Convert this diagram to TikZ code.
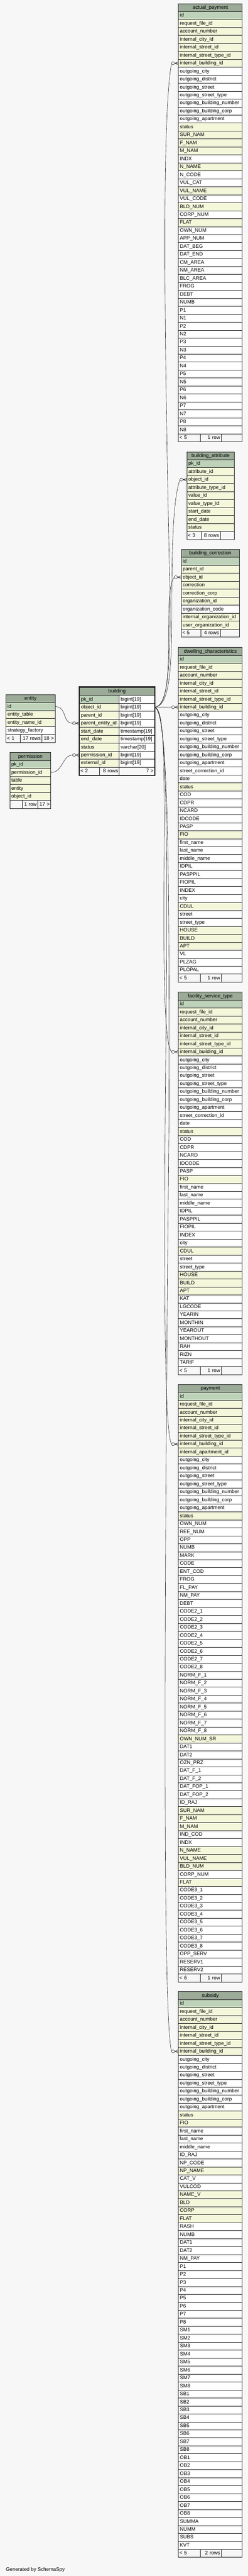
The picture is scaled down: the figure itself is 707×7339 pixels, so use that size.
\documentclass[tikz,border=0pt]{standalone}
\usepackage{fontspec}
\setmainfont{Liberation Sans}
\usetikzlibrary{positioning}

\definecolor{bgcol}{HTML}{F7F7F7}
\definecolor{hdrcol}{HTML}{9BAB98}
\definecolor{pkcol}{HTML}{BED1B9}
\definecolor{fkcol}{HTML}{F4F7DA}
\definecolor{edgecol}{HTML}{222222}

% table: id, title, left, top, width, rows (style/label)
\newcommand{\dbtable}[6]{%
  \pgfmathsetmacro\tw{#5-8.6}%
  \node[hdr, text width=\tw pt, anchor=north west] (#1-h) at (#3,#4) {#2};
  \foreach \kind/\lbl [count=\i] in {#6}{%
    \node[\kind, text width=\tw pt, anchor=north west] (#1-\i) at (#3,#4+\i*22.7) {\lbl};
    \xdef\lastrow{\i}}%
}
% footer: id, three widths, three texts
\newcommand{\dbfoot}[7]{%
  \pgfmathsetmacro\wa{#2-6}\pgfmathsetmacro\wb{#3-6}\pgfmathsetmacro\wc{#4-6}%
  \node[footcell, text width=\wa pt, align=left, anchor=north west] (#1-f1) at (#1-\lastrow.south west) {\mbox{#5}};
  \node[footcell, text width=\wb pt, align=right, anchor=north west] (#1-f2) at (#1-f1.north east) {\mbox{#6}};
  \node[footcell, text width=\wc pt, align=right, anchor=north west] (#1-f3) at (#1-f2.north east) {\mbox{#7}};
}

\catcode`\_=12

\begin{document}
\begin{tikzpicture}[x=1pt, y=-1pt,
    every node/.style={font=\fontsize{14.3}{16}\selectfont, inner xsep=4.3pt, inner ysep=0pt,
                       outer sep=0pt, minimum height=22.7pt, text height=10.6pt, text depth=2.2pt},
    cell/.style={draw=edgecol, line width=0.9pt, align=left},
    hdr/.style={cell, fill=hdrcol, align=center},
    pkrow/.style={cell, fill=pkcol},
    fkrow/.style={cell, fill=fkcol},
    colrow/.style={cell, fill=white},
    footcell/.style={cell, fill=bgcol, inner xsep=3pt},
    fkline/.style={draw=edgecol, line width=0.9pt},
    crowodot/.pic={
      \draw[edgecol, line width=0.9pt] (-11,0) -- (0,-4) (-11,0) -- (0,0) (-11,0) -- (0,4);
      \draw[edgecol, line width=0.9pt, fill=white] (-15.3,0) circle (4.3pt);
    }]

  \fill[bgcol] (0,0) rectangle (707,7339);
  \useasboundingbox (0,0) rectangle (707,7339);

  % right column
  \dbtable{ap}{actual_payment}{509}{10}{182}{pkrow/id, fkrow/request_file_id, fkrow/account_number,
    fkrow/internal_city_id, fkrow/internal_street_id, fkrow/internal_street_type_id, fkrow/internal_building_id,
    colrow/outgoing_city, colrow/outgoing_district, colrow/outgoing_street, colrow/outgoing_street_type,
    colrow/outgoing_building_number, colrow/outgoing_building_corp, colrow/outgoing_apartment,
    fkrow/status, fkrow/SUR_NAM, fkrow/F_NAM, fkrow/M_NAM, colrow/INDX, fkrow/N_NAME, colrow/N_CODE,
    colrow/VUL_CAT, fkrow/VUL_NAME, colrow/VUL_CODE, fkrow/BLD_NUM, colrow/CORP_NUM, fkrow/FLAT,
    colrow/OWN_NUM, colrow/APP_NUM, colrow/DAT_BEG, colrow/DAT_END, colrow/CM_AREA, colrow/NM_AREA,
    colrow/BLC_AREA, colrow/FROG, colrow/DEBT, colrow/NUMB, colrow/P1, colrow/N1, colrow/P2, colrow/N2,
    colrow/P3, colrow/N3, colrow/P4, colrow/N4, colrow/P5, colrow/N5, colrow/P6, colrow/N6,
    colrow/P7, colrow/N7, colrow/P8, colrow/N8}
  \dbfoot{ap}{62}{60}{60}{< 5}{1 row}{}

  \dbtable{ba}{building_attribute}{533}{1287}{135}{pkrow/pk_id, fkrow/attribute_id, fkrow/object_id,
    fkrow/attribute_type_id, fkrow/value_id, fkrow/value_type_id, fkrow/start_date, fkrow/end_date, fkrow/status}
  \dbfoot{ba}{42}{53}{40}{< 3}{8 rows}{}

  \dbtable{bc}{building_correction}{517}{1565}{166}{pkrow/id, fkrow/parent_id, fkrow/object_id,
    fkrow/correction, fkrow/correction_corp, fkrow/organization_id, colrow/organization_code,
    fkrow/internal_organization_id, fkrow/user_organization_id}
  \dbfoot{bc}{56}{55}{55}{< 5}{4 rows}{}

  \dbtable{dc}{dwelling_characteristics}{509}{1844.5}{182}{pkrow/id, fkrow/request_file_id, fkrow/account_number,
    fkrow/internal_city_id, fkrow/internal_street_id, fkrow/internal_street_type_id, fkrow/internal_building_id,
    colrow/outgoing_city, colrow/outgoing_district, colrow/outgoing_street, colrow/outgoing_street_type,
    colrow/outgoing_building_number, colrow/outgoing_building_corp, colrow/outgoing_apartment,
    colrow/street_correction_id, colrow/date, fkrow/status, colrow/COD, colrow/CDPR, colrow/NCARD,
    colrow/IDCODE, colrow/PASP, fkrow/FIO, colrow/first_name, colrow/last_name, colrow/middle_name,
    colrow/IDPIL, colrow/PASPPIL, colrow/FIOPIL, colrow/INDEX, colrow/city, fkrow/CDUL, colrow/street,
    colrow/street_type, fkrow/HOUSE, fkrow/BUILD, fkrow/APT, colrow/VL, colrow/PLZAG, colrow/PLOPAL}
  \dbfoot{dc}{62}{60}{60}{< 5}{1 row}{}

  \dbtable{fs}{facility_service_type}{509}{2826.5}{182}{pkrow/id, fkrow/request_file_id, fkrow/account_number,
    fkrow/internal_city_id, fkrow/internal_street_id, fkrow/internal_street_type_id, fkrow/internal_building_id,
    colrow/outgoing_city, colrow/outgoing_district, colrow/outgoing_street, colrow/outgoing_street_type,
    colrow/outgoing_building_number, colrow/outgoing_building_corp, colrow/outgoing_apartment,
    colrow/street_correction_id, colrow/date, fkrow/status, colrow/COD, colrow/CDPR, colrow/NCARD,
    colrow/IDCODE, colrow/PASP, fkrow/FIO, colrow/first_name, colrow/last_name, colrow/middle_name,
    colrow/IDPIL, colrow/PASPPIL, colrow/FIOPIL, colrow/INDEX, colrow/city, fkrow/CDUL, colrow/street,
    colrow/street_type, fkrow/HOUSE, fkrow/BUILD, fkrow/APT, colrow/KAT, colrow/LGCODE, colrow/YEARIN,
    colrow/MONTHIN, colrow/YEAROUT, colrow/MONTHOUT, colrow/RAH, colrow/RIZN, colrow/TARIF}
  \dbfoot{fs}{62}{60}{60}{< 5}{1 row}{}

  \dbtable{pa}{payment}{509}{3944}{182}{pkrow/id, fkrow/request_file_id, fkrow/account_number,
    fkrow/internal_city_id, fkrow/internal_street_id, fkrow/internal_street_type_id, fkrow/internal_building_id,
    fkrow/internal_apartment_id, colrow/outgoing_city, colrow/outgoing_district, colrow/outgoing_street,
    colrow/outgoing_street_type, colrow/outgoing_building_number, colrow/outgoing_building_corp,
    colrow/outgoing_apartment, fkrow/status, colrow/OWN_NUM, colrow/REE_NUM, colrow/OPP, colrow/NUMB,
    colrow/MARK, colrow/CODE, colrow/ENT_COD, colrow/FROG, colrow/FL_PAY, colrow/NM_PAY, colrow/DEBT,
    colrow/CODE2_1, colrow/CODE2_2, colrow/CODE2_3, colrow/CODE2_4, colrow/CODE2_5, colrow/CODE2_6,
    colrow/CODE2_7, colrow/CODE2_8, colrow/NORM_F_1, colrow/NORM_F_2, colrow/NORM_F_3, colrow/NORM_F_4,
    colrow/NORM_F_5, colrow/NORM_F_6, colrow/NORM_F_7, colrow/NORM_F_8, fkrow/OWN_NUM_SR, colrow/DAT1,
    colrow/DAT2, colrow/OZN_PRZ, colrow/DAT_F_1, colrow/DAT_F_2, colrow/DAT_FOP_1, colrow/DAT_FOP_2,
    colrow/ID_RAJ, fkrow/SUR_NAM, fkrow/F_NAM, fkrow/M_NAM, colrow/IND_COD, colrow/INDX, fkrow/N_NAME,
    fkrow/VUL_NAME, fkrow/BLD_NUM, colrow/CORP_NUM, fkrow/FLAT, colrow/CODE3_1, colrow/CODE3_2,
    colrow/CODE3_3, colrow/CODE3_4, colrow/CODE3_5, colrow/CODE3_6, colrow/CODE3_7, colrow/CODE3_8,
    colrow/OPP_SERV, colrow/RESERV1, colrow/RESERV2}
  \dbfoot{pa}{62}{60}{60}{< 6}{1 row}{}

  \dbtable{su}{subsidy}{509}{5674}{182}{pkrow/id, fkrow/request_file_id, fkrow/account_number,
    fkrow/internal_city_id, fkrow/internal_street_id, fkrow/internal_street_type_id, fkrow/internal_building_id,
    colrow/outgoing_city, colrow/outgoing_district, colrow/outgoing_street, colrow/outgoing_street_type,
    colrow/outgoing_building_number, colrow/outgoing_building_corp, colrow/outgoing_apartment,
    fkrow/status, fkrow/FIO, colrow/first_name, colrow/last_name, colrow/middle_name, colrow/ID_RAJ,
    colrow/NP_CODE, fkrow/NP_NAME, colrow/CAT_V, colrow/VULCOD, fkrow/NAME_V, fkrow/BLD, fkrow/CORP,
    fkrow/FLAT, colrow/RASH, colrow/NUMB, colrow/DAT1, colrow/DAT2, colrow/NM_PAY,
    colrow/P1, colrow/P2, colrow/P3, colrow/P4, colrow/P5, colrow/P6, colrow/P7, colrow/P8,
    colrow/SM1, colrow/SM2, colrow/SM3, colrow/SM4, colrow/SM5, colrow/SM6, colrow/SM7, colrow/SM8,
    colrow/SB1, colrow/SB2, colrow/SB3, colrow/SB4, colrow/SB5, colrow/SB6, colrow/SB7, colrow/SB8,
    colrow/OB1, colrow/OB2, colrow/OB3, colrow/OB4, colrow/OB5, colrow/OB6, colrow/OB7, colrow/OB8,
    colrow/SUMMA, colrow/NUMM, colrow/SUBS, colrow/KVT}
  \dbfoot{su}{62}{60}{60}{< 5}{2 rows}{}

  % left column
  \dbtable{en}{entity}{17}{1979}{140}{pkrow/id, fkrow/entity_table, fkrow/entity_name_id, colrow/strategy_factory}
  \dbfoot{en}{40}{62}{38}{< 1}{17 rows}{18 >}

  \dbtable{pm}{permission}{28}{2144}{117}{pkrow/pk_id, fkrow/permission_id, fkrow/table, fkrow/entity, fkrow/object_id}
  \dbfoot{pm}{35}{45}{37}{}{1 row}{17 >}

  % focus table
  \node[hdr, text width=205.7pt, anchor=north west] (bld-h) at (226.7,1958.3) {building};
  \foreach \kind/\lbl/\typ [count=\i] in {pkrow/pk_id/bigint[19], fkrow/object_id/bigint[19],
      fkrow/parent_id/bigint[19], fkrow/parent_entity_id/bigint[19], fkrow/start_date/timestamp[19],
      fkrow/end_date/timestamp[19], fkrow/status/varchar[20], fkrow/permission_id/bigint[19],
      fkrow/external_id/bigint[19]}{
    \node[\kind, text width=104.7pt, anchor=north west] (bld-\i) at (226.7,1958.3+\i*22.7) {\lbl};
    \node[colrow, text width=92.4pt, anchor=north west] (bldt-\i) at (bld-\i.north east) {\typ};
    \xdef\lastrow{\i}}
  \dbfoot{bld}{57.3}{56}{101}{< 2}{8 rows}{7 >}
  \draw[edgecol, line width=2.6pt] (225.2,1957) rectangle (442.2,2209.6);

  % relationships
  \draw[fkline] (en-1.east) .. controls +(35,0) and +(-30,0) .. ([xshift=-19.6pt]bld-4.west);
  \pic at (bld-4.west) {crowodot};
  \draw[fkline] (pm-2.east) .. controls +(35,0) and +(-30,0) .. ([xshift=-19.6pt]bld-8.west);
  \pic at (bld-8.west) {crowodot};

  \draw[fkline] (bldt-2.east) .. controls (476,2013) and (487,1920) .. (485,1700)
    .. controls (472,1100) and (458,350) .. ([xshift=-19.6pt]ap-7.west);
  \pic at (ap-7.west) {crowodot};
  \draw[fkline] (bldt-2.east) .. controls (480,2011) and (490,1930) .. (490,1750)
    .. controls (490,1550) and (494,1420) .. ([xshift=-19.6pt]ba-3.west);
  \pic at (ba-3.west) {crowodot};
  \draw[fkline] (bldt-2.east) .. controls (472,2012) and (481,1950) .. (481,1820)
    .. controls (481,1720) and (483,1660) .. ([xshift=-19.6pt]bc-3.west);
  \pic at (bc-3.west) {crowodot};
  \draw[fkline] (bldt-2.east) -- ([xshift=-19.6pt]dc-7.west);
  \pic at (dc-7.west) {crowodot};
  \draw[fkline] (bldt-2.east) .. controls (468,2018) and (470,2150) .. (468,2500)
    .. controls (466,2850) and (472,2975) .. ([xshift=-19.6pt]fs-7.west);
  \pic at (fs-7.west) {crowodot};
  \draw[fkline] (bldt-2.east) .. controls (474,2020) and (478,2300) .. (474,2900)
    .. controls (466,3600) and (468,4080) .. ([xshift=-19.6pt]pa-7.west);
  \pic at (pa-7.west) {crowodot};
  \draw[fkline] (bldt-2.east) .. controls (478,2022) and (484,2400) .. (482,3200)
    .. controls (470,4400) and (462,5750) .. ([xshift=-19.6pt]su-7.west);
  \pic at (su-7.west) {crowodot};

  \node[anchor=west, inner xsep=0pt] (gen) at (16.7,7321) {Generated by SchemaSpy};
\end{tikzpicture}
\end{document}
